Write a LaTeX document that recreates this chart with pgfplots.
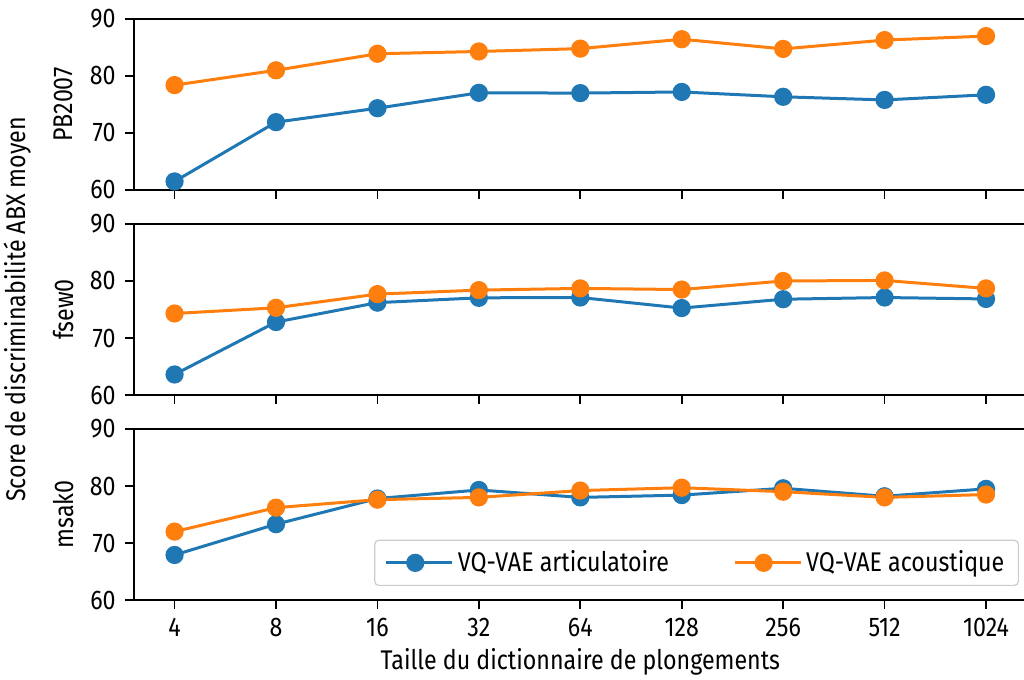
\documentclass[border=0pt]{standalone}
\usepackage{fontspec}
\setmainfont[FakeStretch=0.86]{Fira Sans}
\usepackage{pgfplots}
\pgfplotsset{compat=1.18}
\definecolor{c1}{HTML}{1F77B4}
\definecolor{c2}{HTML}{FF7F0E}
\pgfplotsset{
  panel/.style={
    width=446.3pt, height=85.5pt, scale only axis,
    xmin=-0.4, xmax=8.4, ymin=60, ymax=90,
    ytick={60,70,80,90},
    xtick={0,...,8},
    tick align=outside, tick pos=left,
    major tick length=4.5pt,
    axis line style={line width=0.8pt},
    every tick/.style={black, line width=0.8pt},
    /pgf/number format/assume math mode=true,
    every axis y label/.style={at={(axis description cs:-0.0795,0.5)}, rotate=90, anchor=center},
    every axis plot/.append style={line width=1.5pt, mark=*, mark size=3.8pt, mark options={solid}},
    clip=false,
  },
}
\begin{document}
\fontsize{13.5pt}{16pt}\selectfont
\begin{tikzpicture}
\path[use as bounding box] (-67pt,-40pt) rectangle (445pt,300pt);
% top panel
\begin{axis}[panel, at={(0pt,205pt)}, anchor=south west, xticklabels={}, ylabel={PB2007}]
\addplot[c1] coordinates {(0,61.5) (1,71.9) (2,74.35) (3,77.05) (4,77.0) (5,77.2) (6,76.35) (7,75.8) (8,76.7)};
\addplot[c2] coordinates {(0,78.4) (1,81.0) (2,83.9) (3,84.3) (4,84.8) (5,86.45) (6,84.75) (7,86.3) (8,87.0)};
\end{axis}
% middle panel
\begin{axis}[panel, at={(0pt,102.5pt)}, anchor=south west, xticklabels={}, ylabel={fsew0}]
\addplot[c1] coordinates {(0,63.6) (1,72.8) (2,76.2) (3,77.05) (4,77.1) (5,75.25) (6,76.8) (7,77.1) (8,76.85)};
\addplot[c2] coordinates {(0,74.3) (1,75.3) (2,77.7) (3,78.4) (4,78.7) (5,78.5) (6,80.0) (7,80.1) (8,78.7)};
\node[rotate=90, anchor=center] at (axis description cs:-0.13,0.5) {Score de discriminabilité ABX moyen};
\end{axis}
% bottom panel
\begin{axis}[panel, at={(0pt,0pt)}, anchor=south west,
  xticklabels={4,8,16,32,64,128,256,512,1024}, ylabel={msak0},
  xlabel={Taille du dictionnaire de plongements},
  xlabel style={at={(axis description cs:0.5,-0.409)}, anchor=base},
  legend columns=2,
  legend cell align=left,
  legend style={at={(axis description cs:1,0)}, anchor=south east, xshift=-3.8pt, yshift=7pt,
    draw=black!20, line width=0.6pt, rounded corners=2pt, fill=white,
    /tikz/every even column/.append style={column sep=30pt}, inner xsep=5pt, inner ysep=3pt},
  legend image code/.code={\draw[mark repeat=2,mark phase=2] plot coordinates {(0pt,0pt) (14.5pt,0pt) (29pt,0pt)};
    \path (29pt,0pt) -- (33pt,0pt);},
]
\addplot[c1] coordinates {(0,67.9) (1,73.3) (2,77.8) (3,79.3) (4,78.0) (5,78.4) (6,79.6) (7,78.2) (8,79.5)};
\addplot[c2] coordinates {(0,72.0) (1,76.2) (2,77.6) (3,78.0) (4,79.2) (5,79.7) (6,79.0) (7,78.0) (8,78.5)};
\legend{VQ-VAE articulatoire, VQ-VAE acoustique}
\end{axis}
\end{tikzpicture}
\end{document}
